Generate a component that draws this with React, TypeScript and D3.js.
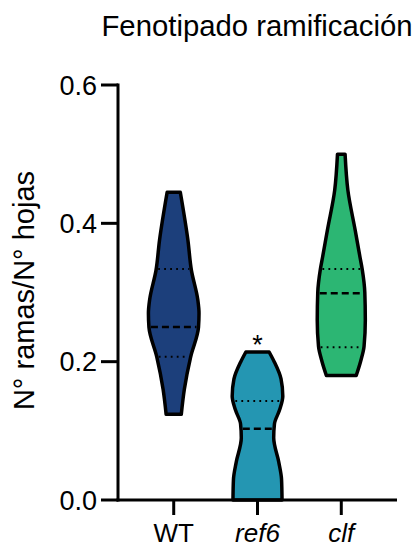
import React from "react";
import * as d3 from "d3";

const categories = ["WT", "ref6", "clf"];
const italicCats = [false, true, true];
const colors = ["#1c3f7b", "#2496b2", "#2cb673"];
const yTicks = [0, 0.2, 0.4, 0.6];

// violin profiles: [value, relative density]
const wtProfile: [number, number][] = [
  [0.124, 0.3], [0.16, 0.42], [0.207, 0.67], [0.25, 0.98], [0.27, 1.0],
  [0.29, 0.95], [0.332, 0.7], [0.376, 0.56], [0.445, 0.26],
];
const ref6Profile: [number, number][] = [
  [0, 0.97], [0.03, 0.95], [0.055, 0.84], [0.09, 0.64], [0.11, 0.67],
  [0.13, 0.87], [0.15, 1.0], [0.175, 0.93], [0.2, 0.66], [0.214, 0.46],
];
const clfProfile: [number, number][] = [
  [0.18, 0.59], [0.2, 0.76], [0.222, 0.9], [0.26, 0.95], [0.3, 0.93],
  [0.333, 0.83], [0.351, 0.74], [0.39, 0.55], [0.448, 0.26], [0.5, 0.15],
];
const profiles = [wtProfile, ref6Profile, clfProfile];

// quartiles [q1, median, q3]
const wtQuart = [0.207, 0.25, 0.334];
const ref6Quart = [0, 0.103, 0.143];
const clfQuart = [0.221, 0.299, 0.334];
const quartiles = [wtQuart, ref6Quart, clfQuart];

const significance = ["", "*", ""];

const W = 419;
const H = 548;
const axisX = 118;
const axisRight = 397;
const yTop = 85;
const yBottom = 500;
const FONT = "Liberation Sans, Arial, sans-serif";

function interp(profile: [number, number][], v: number): number {
  if (v <= profile[0][0]) return profile[0][1];
  for (let i = 1; i < profile.length; i++) {
    if (v <= profile[i][0]) {
      const [v0, d0] = profile[i - 1];
      const [v1, d1] = profile[i];
      return d0 + ((v - v0) / (v1 - v0)) * (d1 - d0);
    }
  }
  return profile[profile.length - 1][1];
}

export default function App() {
  const y = d3.scaleLinear().domain([0, 0.6]).range([yBottom, yTop]);
  const x = d3.scalePoint<string>().domain(categories).range([axisX, axisRight]).padding(0.665);
  const w = d3.scaleLinear().domain([0, 1]).range([0, 25.3]);

  return (
    <svg width={W} height={H} style={{ position: "absolute", left: 0, top: 0, background: "#fff" }}>
      <text x={257} y={36} textAnchor="middle" fontFamily={FONT} fontSize={29.3} fill="#000">
        Fenotipado ramificación
      </text>
      <text
        transform={`translate(34, ${(yTop + yBottom) / 2 - 2}) rotate(-90)`}
        textAnchor="middle"
        fontFamily={FONT}
        fontSize={29}
        fill="#000"
      >
        N° ramas/N° hojas
      </text>

      {categories.map((c, i) => {
        const cx = x(c)!;
        const prof = profiles[i];
        const area = d3
          .area<[number, number]>()
          .y((d) => y(d[0]))
          .x0((d) => cx - w(d[1]))
          .x1((d) => cx + w(d[1]))
          .curve(d3.curveMonotoneY);
        const [q1, med, q3] = quartiles[i];
        const lines = [
          { v: q1, dash: "1.8,4.2", sw: 2 },
          { v: q3, dash: "1.8,4.2", sw: 2 },
          { v: med, dash: "7,4", sw: 2.5 },
        ];
        return (
          <g key={c}>
            <path d={area(prof) || ""} fill={colors[i]} stroke="#000" strokeWidth={3.5} strokeLinejoin="round" />
            {lines
              .filter((l) => l.v > prof[0][0])
              .map((l, j) => {
                const hw = w(interp(prof, l.v)) - 2;
                return (
                  <line
                    key={j}
                    x1={cx - hw}
                    x2={cx + hw}
                    y1={y(l.v)}
                    y2={y(l.v)}
                    stroke="#000"
                    strokeWidth={l.sw}
                    strokeDasharray={l.dash}
                  />
                );
              })}
            {significance[i] && (
              <text
                x={cx}
                y={y(prof[prof.length - 1][0]) + 2}
                textAnchor="middle"
                fontFamily={FONT}
                fontSize={27}
                fill="#000"
              >
                {significance[i]}
              </text>
            )}
          </g>
        );
      })}

      {/* axes */}
      <line x1={axisX} x2={axisX} y1={yTop - 1.5} y2={yBottom + 1.5} stroke="#000" strokeWidth={3} />
      <line x1={axisX - 1.5} x2={axisRight} y1={yBottom} y2={yBottom} stroke="#000" strokeWidth={3} />
      {yTicks.map((t) => (
        <g key={t}>
          <line x1={axisX - 17} x2={axisX} y1={y(t)} y2={y(t)} stroke="#000" strokeWidth={3} />
          <text
            x={axisX - 21}
            y={y(t)}
            dy="0.36em"
            textAnchor="end"
            fontFamily={FONT}
            fontSize={27}
            fill="#000"
          >
            {d3.format(".1f")(t)}
          </text>
        </g>
      ))}
      {categories.map((c, i) => (
        <g key={c}>
          <line x1={x(c)!} x2={x(c)!} y1={yBottom} y2={yBottom + 15} stroke="#000" strokeWidth={3} />
          <text
            x={x(c)!}
            y={542}
            textAnchor="middle"
            fontFamily={FONT}
            fontSize={26}
            fontStyle={italicCats[i] ? "italic" : "normal"}
            fill="#000"
          >
            {c}
          </text>
        </g>
      ))}
    </svg>
  );
}
